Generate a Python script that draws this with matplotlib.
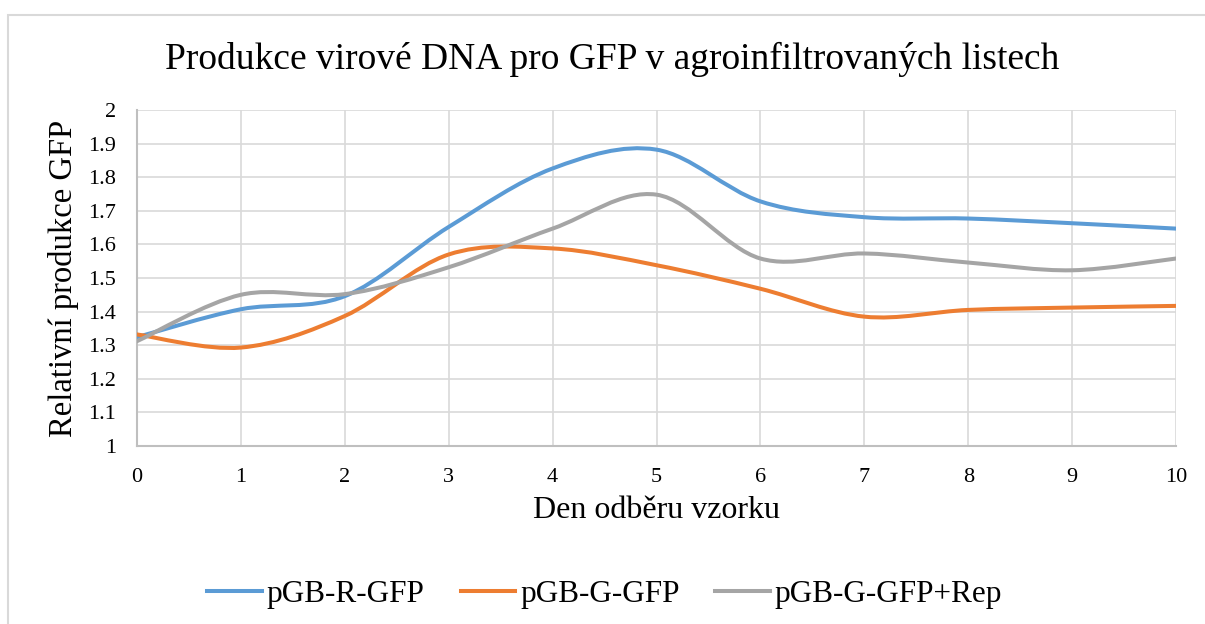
import matplotlib.pyplot as plt
from matplotlib.path import Path
from matplotlib.patches import PathPatch, Rectangle
from matplotlib.lines import Line2D

plt.rcParams['font.family'] = ['Liberation Serif', 'DejaVu Serif']

days = [0, 1, 2, 3, 4, 5, 6, 7, 8, 9, 10]
r_gfp = [1.324, 1.407, 1.446, 1.652, 1.826, 1.882, 1.728, 1.681, 1.677, 1.663, 1.647]
g_gfp = [1.332, 1.293, 1.387, 1.570, 1.588, 1.538, 1.468, 1.385, 1.405, 1.412, 1.417]
g_gfp_rep = [1.312, 1.450, 1.452, 1.532, 1.647, 1.748, 1.558, 1.573, 1.546, 1.523, 1.558]

labels = ["pGB-R-GFP", "pGB-G-GFP", "pGB-G-GFP+Rep"]
colors = ["#5B9BD5", "#ED7D31", "#A5A5A5"]
yticks = [1, 1.1, 1.2, 1.3, 1.4, 1.5, 1.6, 1.7, 1.8, 1.9, 2]


def smooth_path(xs, ys):
    # excel-like smoothed line: bezier segments with catmull-rom control points
    pts = list(zip(xs, ys))
    n = len(pts)
    verts = [pts[0]]
    codes = [Path.MOVETO]
    for i in range(n - 1):
        p0 = pts[i - 1] if i > 0 else pts[i]
        p1 = pts[i]
        p2 = pts[i + 1]
        p3 = pts[i + 2] if i + 2 < n else pts[i + 1]
        c1 = (p1[0] + (p2[0] - p0[0]) / 6, p1[1] + (p2[1] - p0[1]) / 6)
        c2 = (p2[0] - (p3[0] - p1[0]) / 6, p2[1] - (p3[1] - p1[1]) / 6)
        verts += [c1, c2, p2]
        codes += [Path.CURVE4] * 3
    return Path(verts, codes)


fig = plt.figure(figsize=(12.05, 6.24), dpi=100)
# chart area border
fig.patches.append(Rectangle((8 / 1205, -0.1), 1.2, (624 - 15) / 624 + 0.1,
                             transform=fig.transFigure, fill=False,
                             edgecolor="#d9d9d9", lw=1.5))

ax = fig.add_axes([137 / 1205, (624 - 446) / 624, (1176 - 137) / 1205, (446 - 110) / 624])

for ys, c in zip([r_gfp, g_gfp, g_gfp_rep], colors):
    ax.add_patch(PathPatch(smooth_path(days, ys), fill=False, edgecolor=c,
                           lw=2.9, capstyle='round', zorder=3))

ax.set_xlim(0, 10)
ax.set_ylim(1, 2)
ax.set_xticks(days)
ax.set_yticks(yticks)
ax.set_yticklabels([f"{v:g}" for v in yticks])
ax.grid(color="#d9d9d9", lw=1.2)
ax.set_axisbelow(True)
for s in ["top", "right"]:
    ax.spines[s].set_visible(False)
for s in ["left", "bottom"]:
    ax.spines[s].set_color("#bfbfbf")
    ax.spines[s].set_linewidth(1.5)
ax.tick_params(length=0, labelsize=16)
ax.tick_params(axis='x', pad=16)
ax.tick_params(axis='y', pad=15)

ax.set_xlabel("Den odběru vzorku", fontsize=23, labelpad=6)
ax.set_ylabel("Relativní produkce GFP", fontsize=23.5, labelpad=7)
fig.text(0.508, 0.905, "Produkce virové DNA pro GFP v agroinfiltrovaných listech",
         ha='center', va='center', fontsize=27)

handles = [Line2D([], [], color=c, lw=2.9) for c in colors]
fig.legend(handles, labels, loc='center', bbox_to_anchor=(0.502, 0.048), ncol=3,
           frameon=False, fontsize=22.5, handlelength=1.75, handletextpad=0.15,
           columnspacing=1.15)

fig.savefig("out.png", dpi=100)
